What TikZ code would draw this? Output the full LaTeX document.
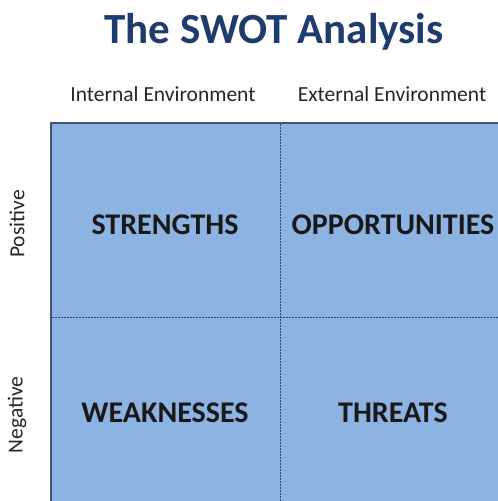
\documentclass[tikz,border=0pt]{standalone}
\usepackage{fontspec}
\setmainfont{Carlito}
\definecolor{swotfill}{HTML}{8DB3E2}
\definecolor{swotedge}{HTML}{3F5474}
\definecolor{swottitle}{HTML}{1F3C6E}
\definecolor{swotgrid}{HTML}{2E4468}
\tikzset{
  titletext/.style={font=\fontsize{43}{48}\selectfont\bfseries, text=swottitle, inner sep=0pt, anchor=base},
  headtext/.style={font=\fontsize{21.5}{24}\selectfont, text=black!85, inner sep=0pt, anchor=base},
  celltext/.style={font=\fontsize{30}{34}\selectfont\bfseries, text=black!90, inner sep=0pt, anchor=base},
  sidetext/.style={font=\fontsize{21.5}{24}\selectfont, text=black!85, inner sep=0pt, rotate=90},
  divider/.style={draw=swotgrid, line width=1pt, dash pattern=on 2pt off 1pt},
}
\begin{document}
\begin{tikzpicture}[x=1pt,y=-1pt]
  \useasboundingbox (0,0) rectangle (498,501);
  \clip (0,0) rectangle (498,501);
  \fill[white] (0,0) rectangle (498,501);
  % matrix background
  \fill[swotfill] (51,123) rectangle (509,511);
  \draw[swotedge, line width=2pt] (51,511) -- (51,123) -- (509,123);
  % quadrant dividers
  \coordinate (vtop) at (280,124);
  \coordinate (vbot) at (280,511);
  \coordinate (hleft) at (52,317);
  \coordinate (hright) at (509,317);
  \draw[divider] (vtop) -- (vbot);
  \draw[divider] (hleft) -- (hright);
  % title and headers
  \node[titletext] (title) at (274,43) {The SWOT Analysis};
  \node[headtext] (internal) at (163,101) {Internal Environment};
  \node[headtext] (external) at (392,101) {External Environment};
  \node[sidetext] (positive) at (17,224) {Positive};
  \node[sidetext] (negative) at (17,415) {Negative};
  % quadrant labels
  \node[celltext] (s) at (165,234) {STRENGTHS};
  \node[celltext] (o) at (393,234) {OPPORTUNITIES};
  \node[celltext] (w) at (165,422) {WEAKNESSES};
  \node[celltext] (t) at (393,422) {THREATS};
\end{tikzpicture}
\end{document}
